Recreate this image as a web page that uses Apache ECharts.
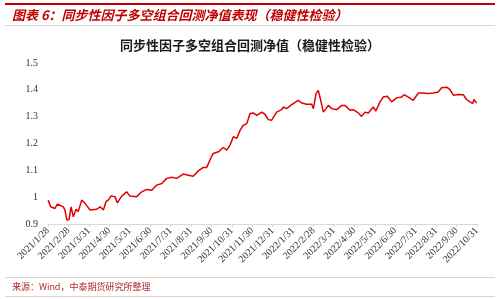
<!DOCTYPE html>
<html><head><meta charset="utf-8">
<script src="https://cdn.jsdelivr.net/npm/echarts@6/dist/echarts.min.js"></script>
<style>html,body{margin:0;padding:0;background:#fff}#c{width:500px;height:299px}</style>
</head><body><div id="c"></div>
<script>
var tickLabels = ["2021/1/28","2021/2/28","2021/3/31","2021/4/30","2021/5/31","2021/6/30","2021/7/31","2021/8/31","2021/9/30","2021/10/31","2021/11/30","2021/12/31","2022/1/31","2022/2/28","2022/3/31","2022/4/30","2022/5/31","2022/6/30","2022/7/31","2022/8/31","2022/9/30","2022/10/31"];
// position in months since 2021/1/28
var monthPos = [0.01,0.13,0.34,0.46,0.75,0.83,0.92,1.03,1.13,1.24,1.37,1.48,1.65,1.81,2.06,2.38,2.55,2.71,2.84,2.95,3.08,3.28,3.39,3.61,3.85,4.01,4.34,4.59,4.83,5.08,5.32,5.57,5.81,6.05,6.30,6.62,6.87,7.11,7.36,7.60,7.77,7.96,8.09,8.34,8.58,8.75,8.91,9.07,9.24,9.40,9.56,9.73,9.89,10.05,10.22,10.46,10.62,10.78,10.95,11.19,11.44,11.52,11.68,11.93,12.25,12.42,12.66,12.91,12.99,13.12,13.23,13.35,13.48,13.61,13.72,13.89,14.13,14.38,14.54,14.78,14.94,15.19,15.35,15.52,15.68,15.92,16.05,16.25,16.41,16.61,16.82,17.07,17.31,17.43,17.64,17.88,18.13,18.37,18.61,18.86,19.10,19.27,19.52,19.68,19.84,20.08,20.33,20.49,20.66,20.79,20.85,20.98];
var nav = [0.989,0.964,0.958,0.974,0.964,0.952,0.915,0.917,0.964,0.927,0.955,0.946,0.989,0.977,0.952,0.955,0.964,0.952,0.983,0.989,1.004,1.002,0.979,1.004,1.020,1.004,1.002,1.020,1.029,1.026,1.045,1.051,1.070,1.074,1.070,1.086,1.082,1.078,1.098,1.111,1.111,1.144,1.163,1.169,1.185,1.175,1.194,1.225,1.219,1.249,1.268,1.274,1.312,1.314,1.305,1.317,1.309,1.289,1.287,1.317,1.326,1.336,1.330,1.345,1.361,1.351,1.346,1.346,1.330,1.386,1.398,1.361,1.317,1.330,1.342,1.330,1.326,1.342,1.342,1.324,1.326,1.314,1.301,1.317,1.314,1.336,1.321,1.355,1.373,1.376,1.355,1.370,1.373,1.382,1.373,1.361,1.388,1.388,1.386,1.388,1.392,1.408,1.410,1.401,1.380,1.383,1.382,1.364,1.355,1.349,1.364,1.351];
var yTicks = [0.9,1.0,1.1,1.2,1.3,1.4,1.5];

var data = monthPos.map(function(m,i){return [m, nav[i]];});
var chart = echarts.init(document.getElementById('c'));
chart.setOption({
  animation:false,
  backgroundColor:'#fff',
  title:{text:'同步性因子多空组合回测净值（稳健性检验）',left:'center',top:34,
    textStyle:{fontFamily:'Noto Sans CJK SC',fontSize:13,fontWeight:'bold',color:'#1a1a1a'}},
  grid:{left:48,right:23,top:63,bottom:75},
  xAxis:{type:'value',min:0,max:21,interval:1,
    axisLine:{show:true,lineStyle:{color:'#d9d9d9'}},
    axisTick:{show:true,length:3,lineStyle:{color:'#d9d9d9'}},
    splitLine:{show:false},
    axisLabel:{rotate:45,fontFamily:'Liberation Serif',fontSize:10,color:'#333',margin:5,
      formatter:function(v){return tickLabels[Math.round(v)]||'';}}},
  yAxis:{type:'value',min:yTicks[0],max:yTicks[yTicks.length-1],interval:0.1,
    axisLine:{show:false},axisTick:{show:false},splitLine:{show:false},
    axisLabel:{fontFamily:'Liberation Serif',fontSize:10,color:'#333',margin:10,
      formatter:function(v){return String(Math.round(v*10)/10);}}},
  series:[{type:'line',data:data,showSymbol:false,lineStyle:{color:'#e00000',width:1.5}}],
  graphic:[
    {type:'rect',shape:{x:5,y:3,width:490,height:2},style:{fill:'#c00000'}},
    {type:'text',left:12,top:9,style:{text:'图表 6：同步性因子多空组合回测净值表现（稳健性检验）',
      font:'italic bold 13px "Noto Sans CJK SC"',fill:'#c00000'}},
    {type:'rect',shape:{x:5,y:25,width:490,height:1},style:{fill:'#d8d8d8'}},
    {type:'rect',shape:{x:5,y:277,width:490,height:1},style:{fill:'#e2cfd2'}},
    {type:'text',left:12,top:282,style:{text:'来源：Wind，中泰期货研究所整理',
      font:'9px "Noto Sans CJK SC"',fill:'#b02a2a'}},
    {type:'rect',shape:{x:5,y:296,width:490,height:1},style:{fill:'#e2cfd2'}}
  ]
});
</script></body></html>
